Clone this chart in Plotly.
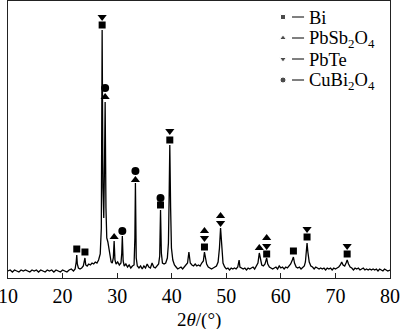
import plotly.graph_objects as go

# ---- Spectrum data (2theta, intensity a.u.) ----
two_theta = [10.0, 10.4, 10.8, 11.2, 11.6, 12.0, 12.4, 12.8, 13.2, 13.6, 14.0, 14.4, 14.8, 15.2, 15.6, 16.0,
             16.4, 16.8, 17.2, 17.6, 18.0, 18.4, 18.8, 19.2, 19.6, 20.0, 20.4, 20.8, 21.2, 21.6, 22.0, 22.3,
             22.5, 22.6, 22.7, 22.9, 23.2, 23.5, 23.8, 24.0, 24.1, 24.25, 24.5, 24.8, 25.1, 25.4, 25.7, 26.0,
             26.3, 26.6, 26.9, 27.1, 27.25, 27.4, 27.55, 27.7, 27.8, 27.95, 28.1, 28.3, 28.5, 28.7, 28.9, 29.1,
             29.3, 29.45, 29.6, 29.8, 30.1, 30.4, 30.7, 30.85, 30.95, 31.1, 31.3, 31.6, 31.9, 32.2, 32.5, 32.8,
             33.1, 33.25, 33.35, 33.5, 33.7, 34.0, 34.3, 34.6, 34.9, 35.2, 35.5, 35.8, 36.1, 36.4, 36.7, 37.0,
             37.3, 37.6, 37.8, 37.95, 38.1, 38.3, 38.6, 38.9, 39.2, 39.4, 39.55, 39.65, 39.8, 39.95, 40.2, 40.5,
             40.8, 41.1, 41.4, 41.7, 42.0, 42.3, 42.6, 42.9, 43.15, 43.4, 43.7, 44.0, 44.3, 44.6, 44.9, 45.2,
             45.5, 45.8, 46.0, 46.2, 46.4, 46.7, 47.0, 47.3, 47.6, 47.9, 48.2, 48.5, 48.75, 48.95, 49.15, 49.4,
             49.7, 50.0, 50.3, 50.6, 50.9, 51.2, 51.5, 51.8, 52.1, 52.35, 52.5, 52.8, 53.1, 53.4, 53.7, 54.0,
             54.3, 54.6, 54.9, 55.2, 55.5, 55.8, 56.05, 56.25, 56.5, 56.8, 57.1, 57.4, 57.6, 57.9, 58.2, 58.5,
             58.8, 59.1, 59.4, 59.7, 60.0, 60.3, 60.6, 60.9, 61.2, 61.5, 61.8, 62.1, 62.3, 62.5, 62.8, 63.1,
             63.4, 63.7, 64.0, 64.3, 64.5, 64.7, 64.8, 64.95, 65.2, 65.5, 65.8, 66.1, 66.4, 66.7, 67.0, 67.3,
             67.6, 67.9, 68.2, 68.5, 68.8, 69.1, 69.4, 69.7, 70.0, 70.3, 70.6, 70.9, 71.15, 71.4, 71.7, 71.95,
             72.15, 72.4, 72.7, 73.0, 73.3, 73.6, 73.9, 74.2, 74.5, 74.8, 75.1, 75.4, 75.7, 76.0, 76.3, 76.6,
             76.9, 77.2, 77.5, 77.8, 78.1, 78.4, 78.7, 79.0, 79.3, 79.6, 80.0]
intensity = [7, 8, 6, 8, 7, 6, 8, 7, 8, 7, 6, 8, 7, 8, 6, 8,
             7, 6, 8, 7, 8, 6, 8, 7, 6, 8, 7, 6, 8, 9, 7, 9,
             16, 23, 14, 10, 9, 10, 12, 17, 20, 13, 12, 14, 13, 15, 14, 16,
             15, 18, 24, 50, 248, 90, 60, 120, 176, 70, 40, 36, 28, 20, 16, 15,
             20, 37, 18, 14, 16, 13, 15, 25, 42, 17, 12, 14, 11, 13, 10, 12,
             13, 40, 95, 20, 12, 10, 12, 9, 12, 10, 14, 11, 10, 15, 11, 10,
             12, 14, 22, 68, 25, 15, 14, 15, 20, 35, 90, 133, 70, 30, 18, 13,
             11, 9, 10, 11, 9, 11, 12, 15, 26, 15, 13, 12, 14, 12, 13, 12,
             15, 17, 26, 20, 14, 11, 10, 9, 10, 11, 12, 16, 30, 50, 32, 15,
             11, 9, 10, 8, 10, 9, 10, 9, 11, 18, 11, 10, 9, 10, 8, 10,
             9, 10, 11, 9, 12, 15, 25, 18, 13, 12, 14, 20, 14, 11, 10, 9,
             10, 11, 9, 12, 10, 11, 9, 11, 10, 12, 14, 18, 21, 15, 11, 10,
             11, 9, 11, 12, 16, 28, 35, 26, 16, 12, 11, 9, 11, 10, 9, 10,
             9, 10, 8, 10, 9, 10, 8, 10, 9, 10, 11, 13, 16, 13, 12, 15,
             18, 14, 11, 10, 8, 10, 9, 10, 8, 9, 10, 8, 9, 8, 9, 8,
             9, 8, 9, 7, 9, 8, 7, 9, 8, 7, 8]

# ---- Phase markers ----
bi_x = [22.6, 24.1, 27.25, 37.95, 39.65, 46.0, 57.4, 62.3, 64.8, 72.15]
bi_y = [29, 26, 253, 73, 138, 31, 24, 27, 41, 24]
pbsb_x = [27.8, 29.45, 33.35, 46.0, 48.95, 56.05, 57.4]
pbsb_y = [181, 41, 98, 47, 62, 30, 40]
pbte_x = [27.25, 39.65, 46.0, 48.95, 57.4, 64.8, 72.15]
pbte_y = [261, 147, 40, 55, 32, 49, 32]
cubi_x = [27.8, 30.95, 33.35, 37.95]
cubi_y = [190, 47, 107, 80]

phase_names = ["Bi", "PbSb<sub>2</sub>O<sub>4</sub>", "PbTe", "CuBi<sub>2</sub>O<sub>4</sub>"]
phase_symbols = ["square", "triangle-up", "triangle-down", "circle"]

x_ticks = [10, 20, 30, 40, 50, 60, 70, 80]

FONT = "Liberation Serif"

fig = go.Figure()
fig.add_trace(go.Scatter(x=two_theta, y=intensity, mode="lines",
                         line=dict(color="black", width=1.3), showlegend=False))

for xs, ys, sym in [(bi_x, bi_y, "square"), (pbsb_x, pbsb_y, "triangle-up"),
                    (pbte_x, pbte_y, "triangle-down"), (cubi_x, cubi_y, "circle")]:
    size = 7 if sym == "square" else 8
    fig.add_trace(go.Scatter(x=xs, y=ys, mode="markers", showlegend=False,
                             marker=dict(symbol=sym, size=size, color="black")))

# custom legend on overlay axes (0..1)
leg_y = [0.9422, 0.8664, 0.7906, 0.7148]
fig.add_trace(go.Scatter(x=[0.7199] * 4, y=leg_y, mode="markers", showlegend=False,
                         xaxis="x2", yaxis="y2",
                         marker=dict(symbol=phase_symbols, size=[5, 6, 6, 6], color="black")))
text_y = [0.938, 0.862, 0.787, 0.710]
for name, ly, ty in zip(phase_names, leg_y, text_y):
    fig.add_shape(type="line", xref="paper", yref="paper", x0=0.7435, x1=0.775, y0=ly, y1=ly,
                  line=dict(color="black", width=1))
    fig.add_annotation(text=name, xref="paper", yref="paper", x=0.7827, y=ty,
                       xanchor="left", yanchor="middle", showarrow=False,
                       font=dict(family=FONT, size=18.5, color="black"))

fig.add_annotation(text="2<i>θ</i>/(°)", xref="paper", yref="paper", x=0.5, y=-0.152,
                   xanchor="center", yanchor="middle", showarrow=False,
                   font=dict(family=FONT, size=19, color="black"))

fig.update_layout(
    width=400, height=329,
    margin=dict(l=8, r=10, t=1, b=51, autoexpand=False),
    paper_bgcolor="white", plot_bgcolor="white",
    font=dict(family=FONT, size=18, color="black"),
    xaxis=dict(range=[10, 80], tickvals=x_ticks, ticks="inside", ticklen=5, tickcolor="#222",
               showline=True, linecolor="#222", linewidth=1, mirror=True, showgrid=False,
               zeroline=False, automargin=False, ticklabeloverflow="allow",
               tickfont=dict(family=FONT, size=20, color="black")),
    yaxis=dict(range=[0, 277], showticklabels=False, ticks="", showline=True, linecolor="#222",
               linewidth=1, mirror=True, showgrid=False, zeroline=False, automargin=False),
    xaxis2=dict(range=[0, 1], overlaying="x", visible=False),
    yaxis2=dict(range=[0, 1], overlaying="y", visible=False),
)

fig.write_html("out.html", config={"displayModeBar": False},
               post_script="document.body.style.margin='0';document.body.style.overflow='hidden';")
